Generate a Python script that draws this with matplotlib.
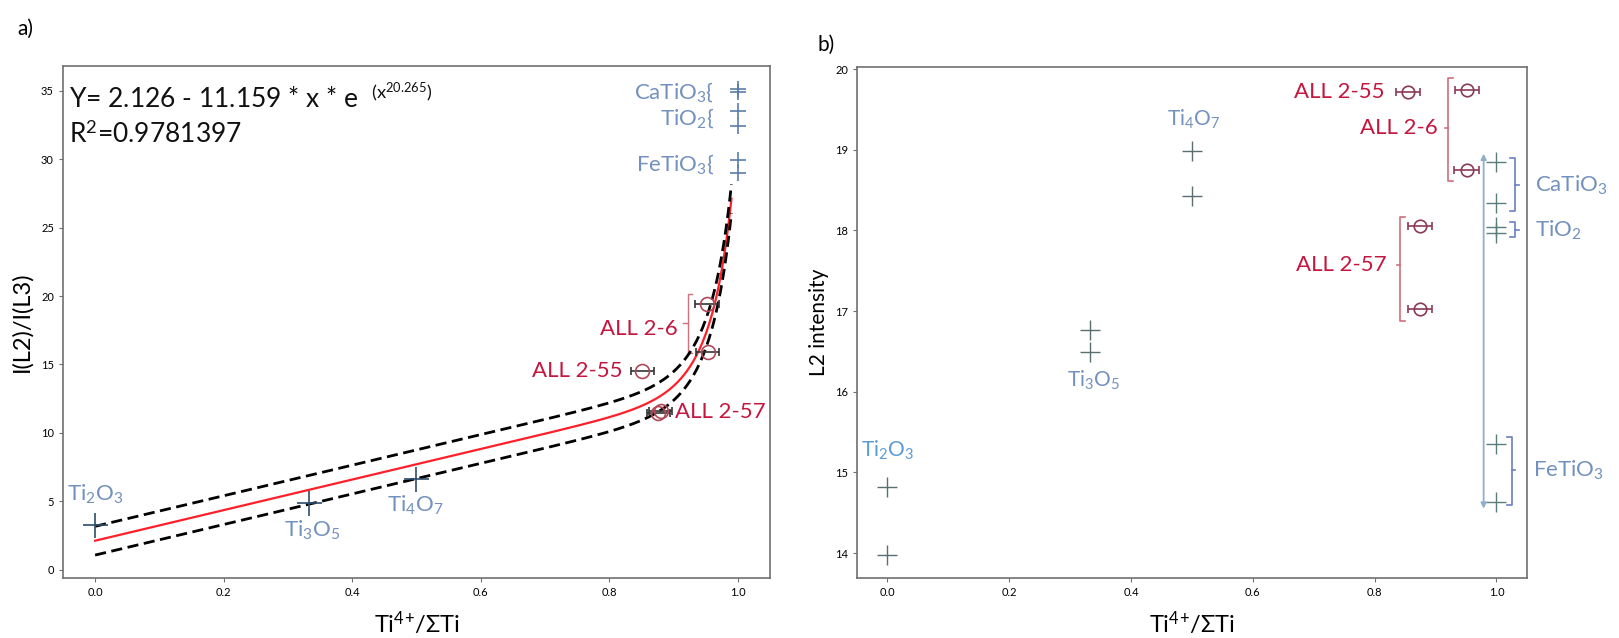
import matplotlib
matplotlib.use("Agg")
import matplotlib.pyplot as plt
import numpy as np

plt.rcParams['font.family'] = ['Lato', 'DejaVu Sans']
plt.rcParams['mathtext.fontset'] = 'custom'
plt.rcParams['mathtext.rm'] = 'Lato'
plt.rcParams['mathtext.it'] = 'Lato:italic'
plt.rcParams['mathtext.bf'] = 'Lato:bold'

# ---- panel a data: I(L2)/I(L3) vs Ti4+/sum Ti ----
std_names_a = ['Ti$_2$O$_3$', 'Ti$_3$O$_5$', 'Ti$_4$O$_7$']
std_x_a = [0.0, 0.333, 0.5]
std_y_a = [3.3, 4.9, 6.6]
end_x_a = [1.0, 1.0, 1.0, 1.0, 1.0, 1.0]
end_y_a = [35.1, 34.9, 33.5, 32.4, 29.9, 29.0]
end_names_a = ['CaTiO$_3$', 'TiO$_2$', 'FeTiO$_3$']
end_label_y_a = [34.9, 33.0, 29.6]
all_x_a = [0.952, 0.953, 0.851, 0.876, 0.88]
all_y_a = [19.43, 15.9, 14.54, 11.47, 11.6]
all_xerr_a = [0.018, 0.018, 0.018, 0.018, 0.018]

# fit as printed on the chart (curve rises, so slope term is added)
fit_a, fit_b, fit_n = 2.126, 11.159, 20.265
band_half = 1.05

# ---- panel b data: L2 intensity vs Ti4+/sum Ti ----
std_x_b = [0.0, 0.0, 0.333, 0.333, 0.5, 0.5]
std_y_b = [14.82, 13.98, 16.76, 16.49, 18.98, 18.43]
end_x_b = [1.0, 1.0, 1.0, 1.0, 1.0, 1.0]
end_y_b = [18.85, 18.34, 18.04, 17.97, 15.35, 14.63]
all_x_b = [0.855, 0.952, 0.951, 0.875, 0.875]
all_y_b = [19.72, 19.74, 18.75, 18.05, 17.03]
all_xerr_b = [0.02, 0.02, 0.02, 0.02, 0.02]

blue = '#7391bf'
red = '#c4173f'
spine_col = '#707070'
xlab = 'Ti$^{4}$$^{+}$/ΣTi'

fig = plt.figure(figsize=(16.19, 6.38), dpi=100)
ax1 = fig.add_axes([0.0389, 0.094, 0.4367, 0.8025])
ax2 = fig.add_axes([0.5293, 0.094, 0.4138, 0.801])

for ax in (ax1, ax2):
    for s in ax.spines.values():
        s.set_color(spine_col)
        s.set_linewidth(1.2)
    ax.tick_params(labelsize=8, length=3, color=spine_col, width=0.8)
    ax.set_xlim(-0.05, 1.05)
    ax.set_xticks([0, 0.2, 0.4, 0.6, 0.8, 1.0])

# ---------------- panel a ----------------
xx = np.linspace(0, 0.99, 400)
fit = fit_a + fit_b * xx * np.exp(xx ** fit_n)
ax1.plot(xx, fit, color='#ff1f2a', lw=1.6, zorder=3)
ax1.plot(xx, fit + band_half, color='black', lw=2, ls=(0, (4, 2)), zorder=3)
ax1.plot(xx, fit - band_half, color='black', lw=2, ls=(0, (4, 2)), zorder=3)

ax1.plot(std_x_a, std_y_a, ls='none', marker='+', ms=18, mew=1.2, color='#2e4d6b', zorder=4)
ax1.plot(end_x_a, end_y_a, ls='none', marker='+', ms=12, mew=1.2, color='#5b7da8', zorder=4)
ax1.errorbar(all_x_a, all_y_a, xerr=all_xerr_a, fmt='o', ms=10, mfc='none',
             mec='#b04858', mew=1.2, ecolor='#333333', elinewidth=1.2, capsize=3, zorder=5)

ax1.set_ylim(-0.6, 36.8)
ax1.set_yticks([0, 5, 10, 15, 20, 25, 30, 35])

ax1.text(0.0, 5.5, std_names_a[0], color=blue, fontsize=16, ha='center', va='center')
ax1.text(0.338, 2.9, std_names_a[1], color=blue, fontsize=16, ha='center', va='center')
ax1.text(0.498, 4.7, std_names_a[2], color=blue, fontsize=16, ha='center', va='center')
for name, ly in zip(end_names_a, end_label_y_a):
    ax1.text(0.963, ly, name + '{', color=blue, fontsize=16, ha='right', va='center')

ax1.text(0.821, 14.54, 'ALL 2-55', color=red, fontsize=16, ha='right', va='center')
ax1.text(0.907, 17.6, 'ALL 2-6', color=red, fontsize=16, ha='right', va='center')
ax1.text(0.902, 11.5, 'ALL 2-57', color=red, fontsize=16, ha='left', va='center')
ax1.plot([0.929, 0.922, 0.922, 0.929], [20.16, 20.16, 15.85, 15.85], color='#d0707f', lw=1)
ax1.plot([0.922, 0.915], [18.0, 18.0], color='#d0707f', lw=1)

ax1.text(-0.04, 34.5, 'Y= 2.126 - 11.159 * x * e  $^{(\\mathrm{x}^{20.265})}$', fontsize=19,
         ha='left', va='center', color='#111111')
ax1.text(-0.04, 31.8, 'R$^2$=0.9781397', fontsize=19, ha='left', va='center', color='#111111')

ax1.set_xlabel(xlab, fontsize=17, labelpad=8)
ax1.set_ylabel('I(L2)/I(L3)', fontsize=17, labelpad=6)
fig.text(0.011, 0.955, 'a)', fontsize=15, ha='left', va='center')

# ---------------- panel b ----------------
ax2.plot(std_x_b, std_y_b, ls='none', marker='+', ms=14, mew=1.0, color='#5a6e6e', zorder=4)
ax2.plot(end_x_b, end_y_b, ls='none', marker='+', ms=14, mew=1.0, color='#5a7e7a', zorder=4)
ax2.errorbar(all_x_b, all_y_b, xerr=all_xerr_b, fmt='o', ms=9, mfc='none',
             mec='#8b3a55', mew=1.2, ecolor='#8b3a55', elinewidth=1.2, capsize=3, zorder=5)

ax2.set_ylim(13.69, 20.025)
ax2.set_yticks([14, 15, 16, 17, 18, 19, 20])

ax2.text(0.0, 15.27, std_names_a[0], color='#5b9bd5', fontsize=15, ha='center', va='center')
ax2.text(0.338, 16.14, std_names_a[1], color=blue, fontsize=15, ha='center', va='center')
ax2.text(0.503, 19.38, std_names_a[2], color=blue, fontsize=15, ha='center', va='center')

ax2.text(0.816, 19.72, 'ALL 2-55', color=red, fontsize=16, ha='right', va='center')
ax2.text(0.903, 19.27, 'ALL 2-6', color=red, fontsize=16, ha='right', va='center')
ax2.text(0.82, 17.57, 'ALL 2-57', color=red, fontsize=16, ha='right', va='center')
br = '#d0707f'
ax2.plot([0.929, 0.921, 0.921, 0.929], [19.89, 19.89, 18.61, 18.61], color=br, lw=1.2)
ax2.plot([0.921, 0.915], [19.27, 19.27], color=br, lw=1.2)
ax2.plot([0.85, 0.842, 0.842, 0.85], [18.17, 18.17, 16.88, 16.88], color=br, lw=1.2)
ax2.plot([0.842, 0.836], [17.57, 17.57], color=br, lw=1.2)

bb = '#6b7fc4'
ax2.plot([1.023, 1.031, 1.031, 1.023], [18.9, 18.9, 18.24, 18.24], color=bb, lw=1.2, clip_on=False)
ax2.plot([1.031, 1.037], [18.56, 18.56], color=bb, lw=1.2, clip_on=False)
ax2.plot([1.023, 1.031, 1.031, 1.023], [18.1, 18.1, 17.92, 17.92], color=bb, lw=1.2, clip_on=False)
ax2.plot([1.031, 1.037], [18.0, 18.0], color=bb, lw=1.2, clip_on=False)
ax2.plot([1.018, 1.025, 1.025, 1.018], [15.44, 15.44, 14.6, 14.6], color=bb, lw=1.2, clip_on=False)
ax2.plot([1.025, 1.031], [15.03, 15.03], color=bb, lw=1.2, clip_on=False)
ax2.text(1.064, 18.56, 'CaTiO$_3$', color=blue, fontsize=16, ha='left', va='center', clip_on=False)
ax2.text(1.064, 18.0, 'TiO$_2$', color=blue, fontsize=16, ha='left', va='center', clip_on=False)
ax2.text(1.06, 15.03, 'FeTiO$_3$', color=blue, fontsize=16, ha='left', va='center', clip_on=False)

ax2.annotate('', xy=(0.979, 18.95), xytext=(0.979, 14.55),
             arrowprops=dict(arrowstyle='<|-|>', color='#8fb0cc', lw=1.3,
                             mutation_scale=8, shrinkA=0, shrinkB=0))

ax2.set_xlabel(xlab, fontsize=17, labelpad=8)
ax2.set_ylabel('L2 intensity', fontsize=15, labelpad=4)
fig.text(0.505, 0.93, 'b)', fontsize=15, ha='left', va='center')

fig.savefig('out.png', dpi=100)
